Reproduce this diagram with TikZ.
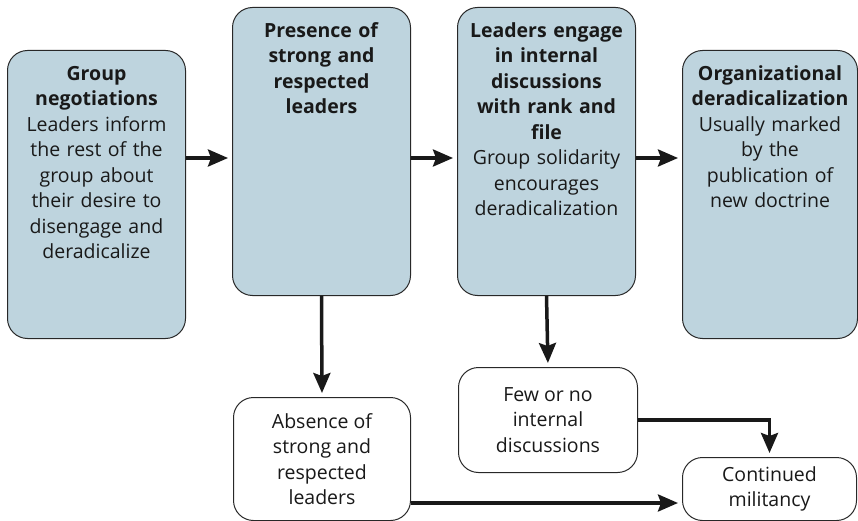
\documentclass[tikz,border=0pt]{standalone}
\usepackage{fontspec}
\setmainfont{Open Sans}
\usetikzlibrary{arrows.meta}

\definecolor{boxblue}{RGB}{190,212,222}
\definecolor{boxline}{RGB}{40,40,40}

\tikzset{
  bluebox/.style={draw=boxline, line width=1pt, fill=boxblue, rounded corners=20pt,
    anchor=north west, text width=172pt, align=center, inner xsep=3pt, inner ysep=0pt,
    text height=30pt, text depth=258pt},
  whitebox/.style={draw=boxline, line width=1pt, fill=white, rounded corners=20pt,
    anchor=north west, align=center, inner sep=0pt},
  flow/.style={draw=black!90, line width=3.5pt,
    -{Stealth[length=20pt, width=17pt, inset=3pt]}, shorten >=4pt},
}

\begin{document}
\begin{tikzpicture}[x=1pt, y=-1pt, font=\fontsize{19.5}{25.5}\selectfont, text=black!90]
    \useasboundingbox (0,0) rectangle (858,521);
    % top row
    \node[bluebox] (group) at (7,50) {\textbf{Group}\\\textbf{negotiations}\\Leaders inform\\the rest of the\\group about\\their desire to\\disengage and\\deradicalize};
    \node[bluebox] (presence) at (232,7) {\textbf{Presence of}\\\textbf{strong and}\\\textbf{respected}\\\textbf{leaders}};
    \node[bluebox] (engage) at (457,7) {\textbf{Leaders engage}\\\textbf{in internal}\\\textbf{discussions}\\\textbf{with rank and}\\\textbf{file}\\Group solidarity\\encourages\\deradicalization};
    \node[bluebox, text width=169pt] (orgderad) at (682,50) {\textbf{Organizational}\\\textbf{deradicalization}\\Usually marked\\by the\\publication of\\new doctrine};
    % outcomes
    \node[whitebox, minimum width=177pt, minimum height=123pt] (absence) at (233,397) {Absence of\\strong and\\respected\\leaders};
    \node[whitebox, minimum width=179pt, minimum height=105pt] (fewdisc) at (458,367) {Few or no\\internal\\discussions};
    \node[whitebox, minimum width=174pt, minimum height=63pt] (militancy) at (682,457) {Continued\\militancy};
    \coordinate (row) at (0,158);
    \coordinate (low) at (0,503);
    % connectors
    \draw[flow] (group.east |- row) -- (presence.west |- row);
    \draw[flow] (presence.east |- row) -- (engage.west |- row);
    \draw[flow] (engage.east |- row) -- (orgderad.west |- row);
    \draw[flow] (presence.south) -- (absence.north);
    \draw[flow] (engage.south) -- (fewdisc.north);
    \draw[flow] (fewdisc.east) -| (militancy.north);
    \draw[flow] (absence.east |- low) -- (militancy.west |- low);
\end{tikzpicture}
\end{document}
